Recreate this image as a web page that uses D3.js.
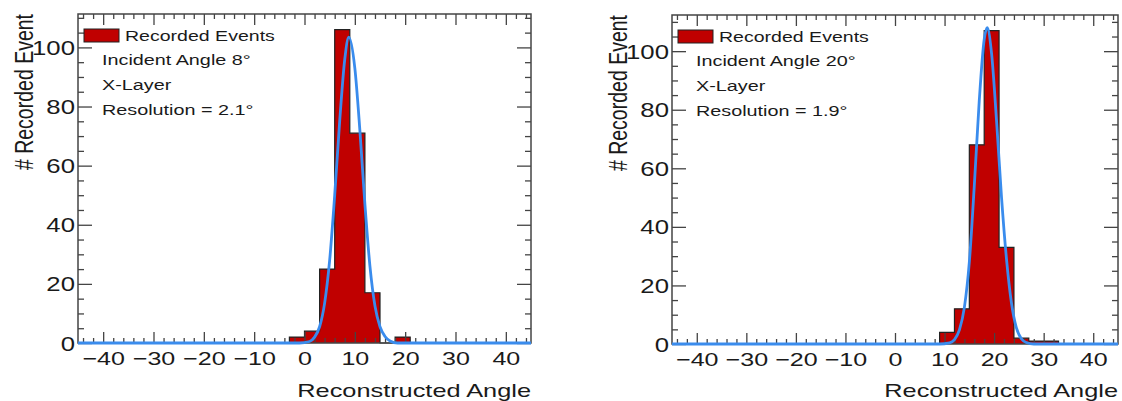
<!DOCTYPE html>
<html>
<head>
<meta charset="utf-8">
<title>Reconstructed Angle</title>
<script src="https://cdn.jsdelivr.net/npm/d3@7"></script>
<style>
  body { margin: 0; background: #fff; }
  svg text { font-family: "Liberation Sans", Arial, Helvetica, sans-serif; fill: #1a1a1a; }
</style>
</head>
<body>
<svg id="svg" width="1122" height="401"></svg>
<script>
// histogram: lower edge of each filled bin (deg), bins are 3 deg wide
var binWidth = 3;
var leftBins = [-3, 0, 3, 6, 9, 12, 15, 18];
var leftCounts = [2, 4, 25, 106, 71, 17, 0, 2];
var rightBins = [9, 12, 15, 18, 21, 24, 27, 30];
var rightCounts = [4, 12, 68, 107, 33, 2, 1, 1];

// fitted curve, points
var leftFitX = [-45, -1, 1, 2, 3, 4, 5, 6, 7, 8, 8.8, 10, 11, 12, 13, 14, 15, 16, 17, 18.5, 45];
var leftFitY = [0, 0, 0.5, 2, 5.5, 13.5, 28, 50, 75.3, 96, 103.5, 93, 72, 47, 26, 12.5, 5.5, 2.2, 0.7, 0, 0];
var rightFitX = [-45, 9, 11, 12, 13, 14, 15, 16, 17, 18, 18.6, 19.5, 20.5, 21.5, 22.5, 23.5, 24.5, 25.5, 26.5, 28, 45];
var rightFitY = [0, 0, 0.4, 1.5, 4.8, 12.5, 28, 54, 83, 104, 108, 99, 76, 50, 29, 14, 5.5, 1.8, 0.5, 0, 0];

var xTicks = [-40, -30, -20, -10, 0, 10, 20, 30, 40];
var yTicks = [0, 20, 40, 60, 80, 100];

var leftNotes = ["Incident Angle 8\u00b0", "X-Layer", "Resolution = 2.1\u00b0"];
var rightNotes = ["Incident Angle 20\u00b0", "X-Layer", "Resolution = 1.9\u00b0"];

var SX = 1.32; // the original picture is stretched sideways
var RED = "#c00000", BLUE = "#3a8ced";

var panels = [
  {left: 78, right: 531, top: 14, bottom: 343, ymax: 111.3,
   bins: leftBins, counts: leftCounts, fx: leftFitX, fy: leftFitY, notes: leftNotes},
  {left: 672, right: 1118, top: 15, bottom: 344, ymax: 112.35,
   bins: rightBins, counts: rightCounts, fx: rightFitX, fy: rightFitY, notes: rightNotes}
];

var svg = d3.select("#svg");

function stext(g, x, y, str, size, anchor) {
  return g.append("text")
    .attr("transform", "translate(" + x + "," + y + ") scale(" + SX + ",1)")
    .attr("text-anchor", anchor)
    .style("font-size", size + "px")
    .text(str);
}

function fmt(d) { return d < 0 ? "\u2212" + Math.abs(d) : "" + d; }

panels.forEach(function(p) {
  var g = svg.append("g");
  var x = d3.scaleLinear().domain([-45, 45]).range([p.left, p.right]);
  var y = d3.scaleLinear().domain([0, p.ymax]).range([p.bottom, p.top]);

  // step histogram
  var pts = [{x: p.bins[0], y: 0}];
  p.bins.forEach(function(b, i) { pts.push({x: b, y: p.counts[i]}); });
  pts.push({x: p.bins[p.bins.length - 1] + binWidth, y: 0});

  g.append("path")
    .attr("d", d3.area().curve(d3.curveStepAfter)
      .x(function(d) { return x(d.x); }).y0(y(0)).y1(function(d) { return y(d.y); })(pts))
    .attr("fill", RED);
  g.append("path")
    .attr("d", d3.line().curve(d3.curveStepAfter)
      .x(function(d) { return x(d.x); }).y(function(d) { return y(d.y); })(pts))
    .attr("fill", "none").attr("stroke", "#222").attr("stroke-width", 1.2);

  // axes, ticks on all four sides pointing inwards
  var xMinor = d3.range(-44, 45, 2).filter(function(v) { return v % 10 !== 0; });
  var yMinor = d3.range(5, 111, 5).filter(function(v) { return v % 20 !== 0; });

  function axisG(axis, tx, ty) {
    var a = g.append("g").attr("transform", "translate(" + tx + "," + ty + ")").call(axis);
    a.select(".domain").remove();
    a.selectAll("line").attr("stroke", "#444").attr("stroke-width", 1.3);
    return a;
  }

  var bx = axisG(d3.axisBottom(x).tickValues(xTicks).tickSize(-11).tickFormat(fmt), 0, p.bottom);
  bx.selectAll("text").attr("y", 22.5).attr("dy", 0)
    .attr("transform", "scale(" + SX + ",1)")
    .style("font-size", "19px").attr("fill", "#1a1a1a");
  axisG(d3.axisBottom(x).tickValues(xMinor).tickSize(-5).tickFormat(""), 0, p.bottom);
  axisG(d3.axisTop(x).tickValues(xTicks).tickSize(-11).tickFormat(""), 0, p.top);
  axisG(d3.axisTop(x).tickValues(xMinor).tickSize(-5).tickFormat(""), 0, p.top);

  var ly = axisG(d3.axisLeft(y).tickValues(yTicks).tickSize(-14), p.left, 0);
  ly.selectAll("text").attr("x", 0).attr("dy", "0.36em")
    .attr("transform", "translate(-3,0) scale(" + SX + ",1)")
    .style("font-size", "19.5px").attr("fill", "#1a1a1a");
  axisG(d3.axisLeft(y).tickValues(yMinor).tickSize(-6).tickFormat(""), p.left, 0);
  axisG(d3.axisRight(y).tickValues(yTicks).tickSize(-14).tickFormat(""), p.right, 0);
  axisG(d3.axisRight(y).tickValues(yMinor).tickSize(-6).tickFormat(""), p.right, 0);

  // frame
  g.append("rect")
    .attr("x", p.left).attr("y", p.top)
    .attr("width", p.right - p.left).attr("height", p.bottom - p.top)
    .attr("fill", "none").attr("stroke", "#444").attr("stroke-width", 1.5);

  // fit
  g.append("path")
    .attr("d", d3.line().curve(d3.curveMonotoneX)
      .x(function(d) { return x(d); }).y(function(d, i) { return y(p.fy[i]); })(p.fx))
    .attr("fill", "none").attr("stroke", BLUE).attr("stroke-width", 2.8);

  // axis titles
  stext(g, p.right, 397, "Reconstructed Angle", 19.2, "end");
  g.append("text")
    .attr("transform", "translate(" + (p.left - 45) + "," + p.top + ") scale(" + SX + ",1) rotate(-90)")
    .attr("text-anchor", "end")
    .style("font-size", "19.5px")
    .text("# Recorded Event");

  // legend + notes
  g.append("rect")
    .attr("x", p.left + 6).attr("y", p.top + 15)
    .attr("width", 35).attr("height", 13)
    .attr("fill", RED).attr("stroke", "#222").attr("stroke-width", 1);
  stext(g, p.left + 47, p.top + 27, "Recorded Events", 14.8, "start");
  p.notes.forEach(function(t, i) {
    stext(g, p.left + 24, p.top + 51 + i * 25, t, 15, "start");
  });
});
</script>
</body>
</html>
